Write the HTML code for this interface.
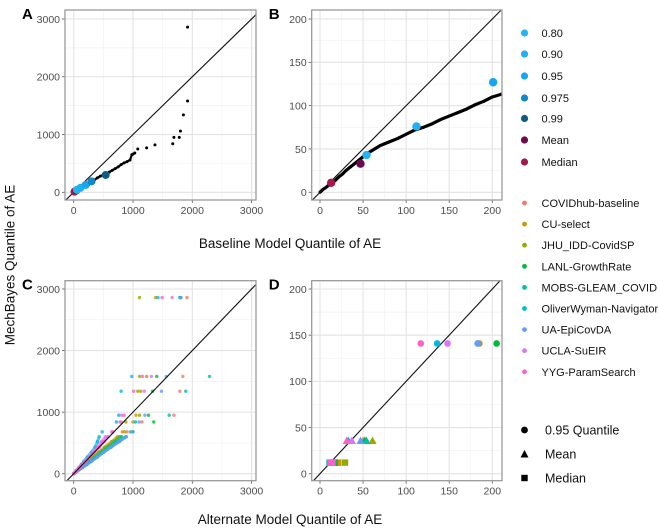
<!DOCTYPE html>
<html><head><meta charset="utf-8"><style>
html,body{margin:0;padding:0;background:#fff;overflow:hidden;width:658px;height:532px;}
svg{display:block;font-family:"Liberation Sans",Arial,sans-serif;}
</style></head><body>
<svg id="fig" width="658" height="532" viewBox="0 0 658 532">
<defs>
<clipPath id="clipA"><rect x="65" y="10" width="191" height="190"/></clipPath>
<clipPath id="clipB"><rect x="311.7" y="10" width="190.3" height="190"/></clipPath>
<clipPath id="clipC"><rect x="65" y="280.7" width="191" height="200"/></clipPath>
<clipPath id="clipD"><rect x="311.7" y="280.7" width="190.3" height="200"/></clipPath>
</defs>
<text x="10" y="265" transform="rotate(-90 10 265)" text-anchor="middle" dominant-baseline="central" font-size="13.5" fill="#111">MechBayes Quantile of AE</text>
<text x="290" y="248" text-anchor="middle" font-size="13.5" fill="#111">Baseline Model Quantile of AE</text>
<text x="290" y="524" text-anchor="middle" font-size="13.5" fill="#111">Alternate Model Quantile of AE</text>
<g id="legend"></g>
</svg>
<script>
// ---- data ----
const baseX = [0,3,6,10,14,18,22,26,30,35,40,45,50,55,60,65,70,75,80,90,100,110,120,130,140,150,160,170,180,190,200,210,250,300,350,400,450,500,540,600,650,700,750,800,850,900,950,980,1000,1030,1080,1230,1370,1670,1690,1780,1800,1850,1920,1920];
const mechY = [0,3,5,8,11,14,18,21,25,29,33,37,41,45,48,51,54,56,58,62,67,72,75,79,84,88,92,96,101,105,110,113,130,170,215,250,280,300,310,350,380,410,440,480,510,530,560,650,660,680,750,770,820,840,950,950,1060,1340,1580,2860];
const qLabels = ["Median","Mean","0.80","0.90","0.95","0.975","0.99"];
const qBaseX = [13,47,54,112,201,300,540];
const qMechY = [11,33,43,76,127,190,300];
const qColors = ["#a3184c","#6b0a50","#22b5f5","#1eb0f2","#1aa6ec","#1388c6","#0c5d86"];
const models = ["COVIDhub-baseline","CU-select","JHU_IDD-CovidSP","LANL-GrowthRate","MOBS-GLEAM_COVID","OliverWyman-Navigator","UA-EpiCovDA","UCLA-SuEIR","YYG-ParamSearch"];
const modelColors = ["#F8766D","#D39200","#93AA00","#00BA38","#00C19F","#00B9E3","#619CFF","#DB72FB","#FF61C3"];
const cMechY = [0,25,50,100,150,200,270,350,430,520,600,680,840,950,1340,1580,2860];
const cAltX = [
 [0,32,65,130,195,260,350,450,560,680,790,900,1150,1690,1790,1840,1910],
 [0,30,60,120,180,240,320,420,520,640,740,820,1000,1050,1130,1230,1380],
 [0,31,62,125,188,250,340,440,540,660,770,860,880,1110,1080,1110,1110],
 [0,36,72,145,218,290,390,500,620,760,880,1000,1350,1260,1330,1400,1800],
 [0,34,68,135,203,270,360,470,580,700,810,960,1040,1610,1890,2290,1790],
 [0,21,42,85,128,170,230,300,360,400,430,480,720,760,800,980,1420],
 [0,37,75,150,225,300,400,510,630,770,890,1000,1100,1200,1480,1560,1810],
 [0,24,48,95,143,190,260,330,400,470,540,640,780,810,1190,1310,1660],
 [0,25,50,100,150,200,270,350,430,510,580,660,800,850,1010,1160,1490]
];
const dRowsY = [141,36,12];
const dQ95X = [240,185,260,205,250,136,183,148,117];
const dMeanX = [50,52,61,52,54,33,47,37,31];
const dMedX = [20,21,29,17,15,11,12,14,13];

// ---- helpers ----
const NS="http://www.w3.org/2000/svg";
const svg=document.getElementById('fig');
function mk(tag,attrs,parent){const e=document.createElementNS(NS,tag);for(const k in attrs)e.setAttribute(k,attrs[k]);(parent||svg).appendChild(e);return e;}

const panels={
 A:{l:65,r:256,t:10,b:200,x0:73.7,xs:0.0593,y0:192.3,ys:0.05777,ticks:[0,1000,2000,3000],minor:[500,1500,2500],clip:'clipA'},
 B:{l:311.7,r:502,t:10,b:200,x0:320,xs:0.8615,y0:192.3,ys:0.8665,ticks:[0,50,100,150,200],minor:[25,75,125,175],clip:'clipB'},
 C:{l:65,r:256,t:280.7,b:480.7,x0:73.7,xs:0.0593,y0:473.7,ys:0.06157,ticks:[0,1000,2000,3000],minor:[500,1500,2500],clip:'clipC'},
 D:{l:311.7,r:502,t:280.7,b:480.7,x0:320,xs:0.8615,y0:473.7,ys:0.9235,ticks:[0,50,100,150,200],minor:[25,75,125,175],clip:'clipD'}
};
function X(p,v){return p.x0+v*p.xs;}
function Y(p,v){return p.y0-v*p.ys;}

function drawFrame(key){
 const p=panels[key];
 const g=mk('g',{});
 
 
 mk('rect',{x:p.l,y:p.t,width:p.r-p.l,height:p.b-p.t,fill:'#fff'},g);
 p.minor.forEach(v=>{
  mk('line',{x1:X(p,v),x2:X(p,v),y1:p.t,y2:p.b,stroke:'#f2f2f2','stroke-width':0.7},g);
  mk('line',{x1:p.l,x2:p.r,y1:Y(p,v),y2:Y(p,v),stroke:'#f2f2f2','stroke-width':0.7},g);
 });
 p.ticks.forEach(v=>{
  mk('line',{x1:X(p,v),x2:X(p,v),y1:p.t,y2:p.b,stroke:'#e3e3e3','stroke-width':1.1},g);
  mk('line',{x1:p.l,x2:p.r,y1:Y(p,v),y2:Y(p,v),stroke:'#e3e3e3','stroke-width':1.1},g);
  mk('line',{x1:X(p,v),x2:X(p,v),y1:p.b,y2:p.b+3,stroke:'#555','stroke-width':0.8},g);
  mk('line',{x1:p.l-3,x2:p.l,y1:Y(p,v),y2:Y(p,v),stroke:'#555','stroke-width':0.8},g);
  const tx=mk('text',{x:X(p,v),y:p.b+14,'text-anchor':'middle','font-size':10.5,fill:'#4d4d4d'},g);
  tx.textContent=v;
  
  
  const ty=mk('text',{x:p.l-5,y:Y(p,v)+3.8,'text-anchor':'end','font-size':10.5,fill:'#4d4d4d'},g);
  ty.textContent=v;
  
  
 });
 const lab=mk('text',{x:p.l-43,y:p.t+9,'font-size':15,'font-weight':'bold',fill:'#000'},g);
 lab.textContent=key;
 
 
 return g;
}
function finishFrame(key,g){
 const p=panels[key];
 const d=mk('line',{x1:X(p,-1000),y1:Y(p,-1000),x2:X(p,5000),y2:Y(p,5000),stroke:'#111','stroke-width':1.1,'clip-path':'url(#'+p.clip+')'},g);
 
 
 const b=mk('rect',{x:p.l,y:p.t,width:p.r-p.l,height:p.b-p.t,fill:'none',stroke:'#9a9a9a','stroke-width':1.3},g);
 
 
}

['A','B'].forEach(k=>{
 const p=panels[k];const g=drawFrame(k);
 const dg=mk('g',{'clip-path':'url(#'+p.clip+')'},g);
 if(k==='B'){
  let pts=baseX.map((v,i)=>X(p,v)+','+Y(p,mechY[i])).join(' ');
  const pl=mk('polyline',{points:pts,fill:'none',stroke:'#000','stroke-width':3.2,'stroke-linejoin':'round'},dg);
  
  
 } else {
  const pts=baseX.filter(v=>v<=1000).map((v,i)=>X(p,v)+','+Y(p,mechY[i])).join(' ');
  mk('polyline',{points:pts,fill:'none',stroke:'#000','stroke-width':2.2},dg);
 }
 baseX.forEach((v,i)=>{
  const c=mk('circle',{cx:X(p,v),cy:Y(p,mechY[i]),r:1.5,fill:'#000'},dg);
  
  
 });
 finishFrame(k,g);
 qBaseX.forEach((v,i)=>{
  const c=mk('circle',{cx:X(p,v),cy:Y(p,qMechY[i]),r:k==='A'?4:4.2,fill:qColors[i],'clip-path':'url(#'+p.clip+')'},g);
  
  
 });
});

(function(){
 const p=panels.C;const g=drawFrame('C');
 const dg=mk('g',{'clip-path':'url(#'+p.clip+')'},g);
 models.forEach((m,mi)=>{
  const lowPts=cAltX[mi].map((v,i)=>[v,cMechY[i]]).filter(d=>d[1]<=600);
  const pl=mk('polyline',{points:lowPts.map(d=>X(p,d[0])+','+Y(p,d[1])).join(' '),fill:'none',stroke:modelColors[mi],'stroke-width':3,'stroke-opacity':0.7,'stroke-linejoin':'round'},dg);
  
  
  cAltX[mi].forEach((v,i)=>{
   const c=mk('circle',{cx:X(p,v),cy:Y(p,cMechY[i]),r:1.7,fill:modelColors[mi],'fill-opacity':0.8},dg);
   
   
  });
 });
 finishFrame('C',g);
})();

(function(){
 const p=panels.D;const g=drawFrame('D');
 finishFrame('D',g);
 const dg=mk('g',{'clip-path':'url(#'+p.clip+')'},g);
 models.forEach((m,mi)=>{
  const c=mk('circle',{cx:X(p,dQ95X[mi]),cy:Y(p,dRowsY[0]),r:3.3,fill:modelColors[mi]},dg);
  
  
  const tx=X(p,dMeanX[mi]),ty=Y(p,dRowsY[1]);
  const t=mk('polygon',{points:(tx-4)+','+(ty+3.5)+' '+(tx+4)+','+(ty+3.5)+' '+tx+','+(ty-4),fill:modelColors[mi]},dg);
  
  
  const sx=X(p,dMedX[mi]),sy=Y(p,dRowsY[2]);
  const s=mk('rect',{x:sx-3.2,y:sy-3.2,width:6.4,height:6.4,fill:modelColors[mi]},dg);
  
  
 });
})();

(function(){
 const lg=document.getElementById('legend');
 const qLeg=["0.80","0.90","0.95","0.975","0.99","Mean","Median"];
 const qLegC=["#22b5f5","#1eb0f2","#1aa6ec","#1388c6","#0c5d86","#6b0a50","#a3184c"];
 const qLegY=[33,54,76,98,118.5,140,162];
 qLeg.forEach((t,i)=>{
  const e=mk('g',{},lg);
  
  
  mk('circle',{cx:524.5,cy:qLegY[i],r:3.6,fill:qLegC[i]},e);
  const tx=mk('text',{x:541.5,y:qLegY[i]+4,'font-size':11,fill:'#111'},e);tx.textContent=t;
 });
 models.forEach((t,i)=>{
  const y=203+i*21.1;
  const e=mk('g',{},lg);
  
  
  mk('circle',{cx:524.5,cy:y,r:2.4,fill:modelColors[i]},e);
  const tx=mk('text',{x:541.5,y:y+4,'font-size':11,fill:'#111'},e);tx.textContent=t;
 });
 const sh=[["0.95 Quantile",430,'c'],["Mean",454,'t'],["Median",478,'s']];
 sh.forEach(s=>{
  const e=mk('g',{},lg);
  
  
  const y=s[1];
  if(s[2]==='c')mk('circle',{cx:524.5,cy:y,r:3.4,fill:'#000'},e);
  if(s[2]==='t')mk('polygon',{points:(520.5)+','+(y+3.5)+' '+(528.5)+','+(y+3.5)+' 524.5,'+(y-4),fill:'#000'},e);
  if(s[2]==='s')mk('rect',{x:521.3,y:y-3.2,width:6.4,height:6.4,fill:'#000'},e);
  const tx=mk('text',{x:545,y:y+4.5,'font-size':12.5,fill:'#111'},e);tx.textContent=s[0];
 });
})();
</script>
</body></html>
